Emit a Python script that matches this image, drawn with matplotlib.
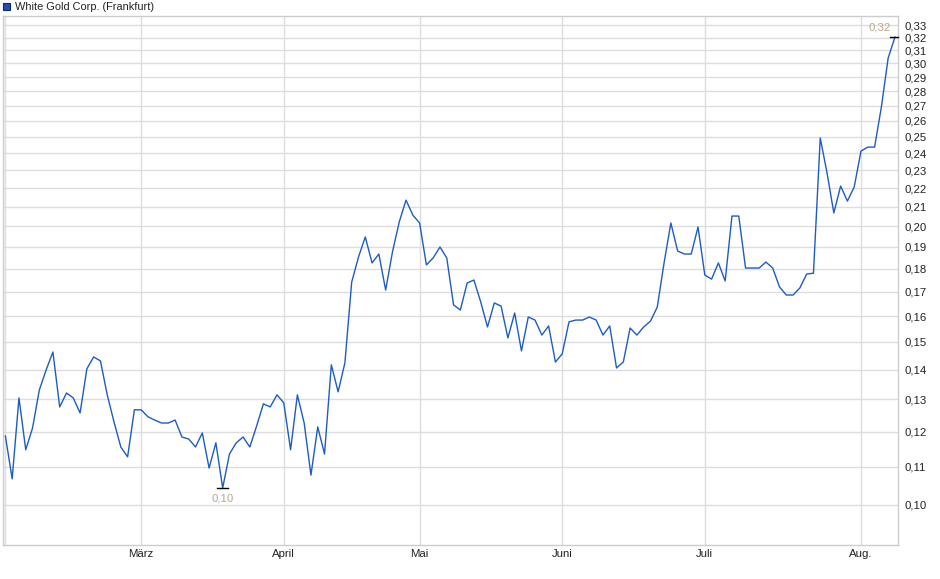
import matplotlib
matplotlib.use("Agg")
import matplotlib.pyplot as plt
from matplotlib.ticker import FixedLocator, NullLocator, FixedFormatter
from matplotlib.patches import Rectangle

# ============================================================
# DATA (daily closes)
# ============================================================
PRICES = [
    0.1187, 0.1067, 0.1305, 0.1147, 0.1211, 0.1331, 0.1399, 0.1463, 0.1276, 0.1321,
    0.1305, 0.1257, 0.1403, 0.1445, 0.1431, 0.1315, 0.1229, 0.1155, 0.1127, 0.1267,
    0.1267, 0.1245, 0.1235, 0.1226, 0.1226, 0.1235, 0.1184, 0.1178, 0.1155, 0.1196,
    0.1096, 0.1167, 0.1043, 0.1135, 0.1167, 0.1184, 0.1155, 0.1217, 0.1286, 0.1276,
    0.1315, 0.1289, 0.1147, 0.1315, 0.1226, 0.1077, 0.1214, 0.1135, 0.1417, 0.1325,
    0.1424, 0.1741, 0.1853, 0.1948, 0.1826, 0.1867, 0.1707, 0.1876, 0.2022, 0.2135,
    0.2057, 0.2017, 0.1817, 0.1849, 0.1900, 0.1849, 0.1645, 0.1624, 0.1737, 0.1750,
    0.1657, 0.1557, 0.1653, 0.1640, 0.1515, 0.1612, 0.1467, 0.1596, 0.1584, 0.1526,
    0.1561, 0.1427, 0.1456, 0.1577, 0.1584, 0.1584, 0.1596, 0.1584, 0.1526, 0.1561,
    0.1406, 0.1427, 0.1553, 0.1526, 0.1557, 0.1580, 0.1636, 0.1826, 0.2017, 0.1881,
    0.1867, 0.1867, 0.1997, 0.1772, 0.1754, 0.1826, 0.1746, 0.2052, 0.2052, 0.1803,
    0.1803, 0.1803, 0.1830, 0.1803, 0.1720, 0.1686, 0.1686, 0.1716, 0.1776, 0.1780,
    0.2492, 0.2284, 0.2068, 0.2211, 0.2130, 0.2206, 0.2412, 0.2436, 0.2436, 0.2691,
    0.3040, 0.3203,
]

# first trading day of each month (index into PRICES)
MONTH_IDX = [0, 20, 41, 61, 82, 103, 126]
MONTH_LABELS = ["", "März", "April", "Mai", "Juni", "Juli", "Aug."]

Y_TICKS = [0.10, 0.11, 0.12, 0.13, 0.14, 0.15, 0.16, 0.17, 0.18, 0.19, 0.20,
           0.21, 0.22, 0.23, 0.24, 0.25, 0.26, 0.27, 0.28, 0.29, 0.30, 0.31,
           0.32, 0.33]

TITLE = "White Gold Corp. (Frankfurt)"

LINE_COLOR = "#1c5cc4"
GRID_COLOR = "#dddddd"
EXTREME_COLOR = "#b8a78e"

plt.rcParams["font.family"] = ["Liberation Sans", "DejaVu Sans"]

# ============================================================
# PLOT
# ============================================================
W, H = 940, 579
fig = plt.figure(figsize=(W / 100, H / 100), dpi=100)
ax = fig.add_axes([3 / W, (H - 545) / H, 895 / W, 529 / H])

x = list(range(len(PRICES)))
ax.plot(x, PRICES, color=LINE_COLOR, linewidth=1.0, zorder=3)

ax.set_yscale("log")
ax.set_ylim(0.0905, 0.3376)
ax.set_xlim(-0.35, 131.45)

ax.yaxis.set_major_locator(FixedLocator(Y_TICKS))
ax.yaxis.set_major_formatter(FixedFormatter([f"{v:.2f}".replace(".", ",") for v in Y_TICKS]))
ax.yaxis.set_minor_locator(NullLocator())
ax.yaxis.tick_right()
ax.tick_params(axis="y", length=0, pad=5, labelsize=8.2, colors="#222222")

ax.xaxis.set_major_locator(FixedLocator(MONTH_IDX))
ax.xaxis.set_major_formatter(FixedFormatter(MONTH_LABELS))
ax.xaxis.set_minor_locator(NullLocator())
ax.tick_params(axis="x", length=0, pad=3, labelsize=8.2, colors="#222222")

ax.grid(True, which="major", color=GRID_COLOR, linewidth=1.0, zorder=0)
for s in ax.spines.values():
    s.set_color("#cccccc")
    s.set_linewidth(1.0)

# --- min / max markers ---
i_min = PRICES.index(min(PRICES))
i_max = PRICES.index(max(PRICES))
ax.plot([i_min - 0.8, i_min + 0.8], [PRICES[i_min]] * 2, color="black", linewidth=1.0, zorder=4)
ax.annotate(f"{PRICES[i_min]:.2f}".replace(".", ","), (i_min, PRICES[i_min]),
            xytext=(0, -4), textcoords="offset points", ha="center", va="top",
            fontsize=8.2, color=EXTREME_COLOR)
ax.plot([i_max - 0.7, i_max + 0.45], [PRICES[i_max]] * 2, color="black", linewidth=1.0,
        zorder=4, clip_on=False)
ax.annotate(f"{PRICES[i_max]:.2f}".replace(".", ","), (i_max, PRICES[i_max]),
            xytext=(-11, 3), textcoords="offset points", ha="center", va="bottom",
            fontsize=8.2, color=EXTREME_COLOR)

# --- legend-like title ---
fig.patches.append(Rectangle((3 / W, (H - 10) / H), 7 / W, 7 / H, transform=fig.transFigure,
                             facecolor="#1f4fb4", edgecolor="#0d2a66", linewidth=0.8))
fig.text(15 / W, (H - 6.5) / H, TITLE, ha="left", va="center", fontsize=7.9, color="#222222")

fig.savefig("out.png", dpi=100)
